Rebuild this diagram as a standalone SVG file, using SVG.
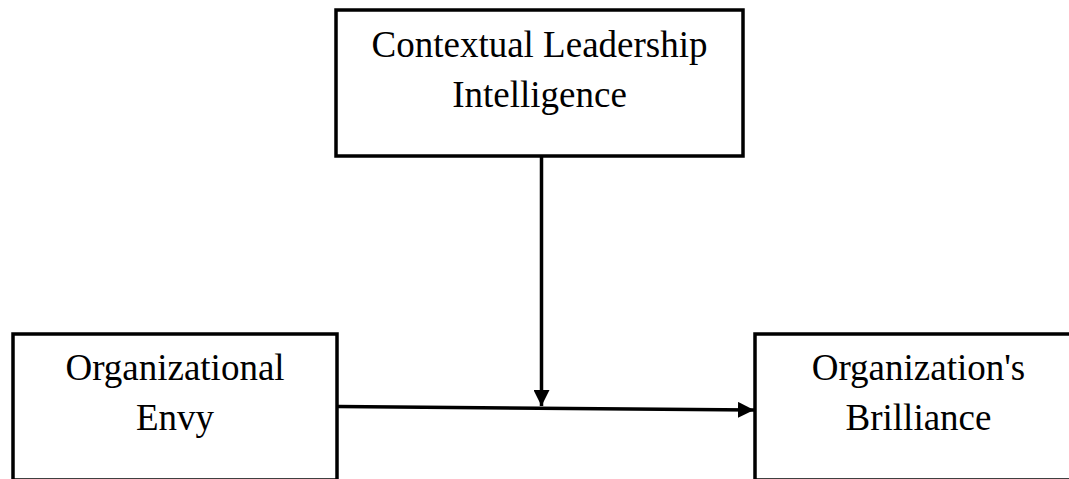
<svg xmlns="http://www.w3.org/2000/svg" width="1069" height="479" viewBox="0 0 1069 479">
<style>
.box{fill:#fff;stroke:#000;stroke-width:3.5}
.lbl{font-family:"Liberation Serif","Times New Roman",serif;font-size:37px;fill:#000;text-anchor:middle}
.conn{stroke:#000;stroke-width:3.5;fill:none}
</style>
<defs>
<marker id="ah" markerUnits="userSpaceOnUse" markerWidth="18" markerHeight="16" refX="16" refY="8" orient="auto">
<path d="M0,0 L16,8 L0,16 Z" fill="#000"/>
</marker>
</defs>
<rect width="1069" height="479" fill="#fff"/>
<g id="node-cli">
<rect class="box" x="336" y="10" width="407" height="146"/>
<text class="lbl" x="539.5" y="57">Contextual Leadership</text>
<text class="lbl" x="539.5" y="107">Intelligence</text>
</g>
<g id="node-envy">
<rect class="box" x="13" y="334" width="324" height="146"/>
<text class="lbl" x="175" y="380">Organizational</text>
<text class="lbl" x="175" y="430">Envy</text>
</g>
<g id="node-brilliance">
<rect class="box" x="755" y="334" width="326" height="146"/>
<text class="lbl" x="918.5" y="380">Organization's</text>
<text class="lbl" x="918.5" y="430">Brilliance</text>
</g>
<g id="connectors">
<line class="conn" x1="541.5" y1="157" x2="541.5" y2="406" marker-end="url(#ah)"/>
<line class="conn" x1="338" y1="406.5" x2="754" y2="410" marker-end="url(#ah)"/>
</g>
</svg>
